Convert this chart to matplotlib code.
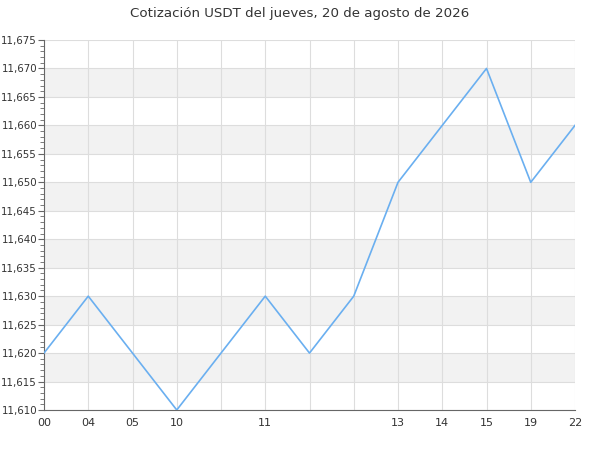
import matplotlib
matplotlib.use("Agg")
import matplotlib.pyplot as plt
from matplotlib.ticker import MultipleLocator, FuncFormatter

values = [11.620, 11.630, 11.620, 11.610, 11.620, 11.630, 11.620,
          11.630, 11.650, 11.660, 11.670, 11.650, 11.660]
tick_pos = [0, 1, 2, 3, 5, 8, 9, 10, 11, 12]
tick_labels = ["00", "04", "05", "10", "11", "13", "14", "15", "19", "22"]
title = "Cotización USDT del jueves, 20 de agosto de 2026"

fig = plt.figure(figsize=(6, 4.5), dpi=100)
ax = fig.add_axes([44/600, 1-410/450, (575-44)/600, (410-40)/450])

ymin, ymax = 11.610, 11.675
# alternating bands
y = 11.615
while y < ymax - 1e-9:
    ax.axhspan(y, y + 0.005, color="#f2f2f2", zorder=0, lw=0)
    y += 0.010

ax.plot(range(len(values)), values, color="#6aaff0", lw=1.2, zorder=3)

ax.set_xlim(0, len(values) - 1)
ax.set_ylim(ymin, ymax)
ax.set_xticks(range(len(values)), minor=True)
ax.set_xticks(tick_pos)
ax.set_xticklabels(tick_labels)
ax.yaxis.set_major_locator(MultipleLocator(0.005))
ax.yaxis.set_minor_locator(MultipleLocator(0.001))
ax.yaxis.set_major_formatter(FuncFormatter(lambda v, p: f"{v:.3f}".replace(".", ",")))

ax.grid(True, which="major", axis="y", color="#dddddd", lw=0.8, zorder=1)
ax.grid(True, which="both", axis="x", color="#dddddd", lw=0.8, zorder=1)

for s in ["top", "right"]:
    ax.spines[s].set_visible(False)
for s in ["left", "bottom"]:
    ax.spines[s].set_color("#666666")
    ax.spines[s].set_linewidth(0.8)

ax.tick_params(axis="y", which="major", length=4, color="#666666", labelsize=7.4, labelcolor="#333333", pad=1)
ax.tick_params(axis="y", which="minor", length=3, color="#666666")
ax.tick_params(axis="x", which="both", length=0, labelsize=8, labelcolor="#333333", pad=6)

fig.suptitle(title, y=0.985, fontsize=9.6, color="#333333")
fig.savefig("out.png", dpi=100)
